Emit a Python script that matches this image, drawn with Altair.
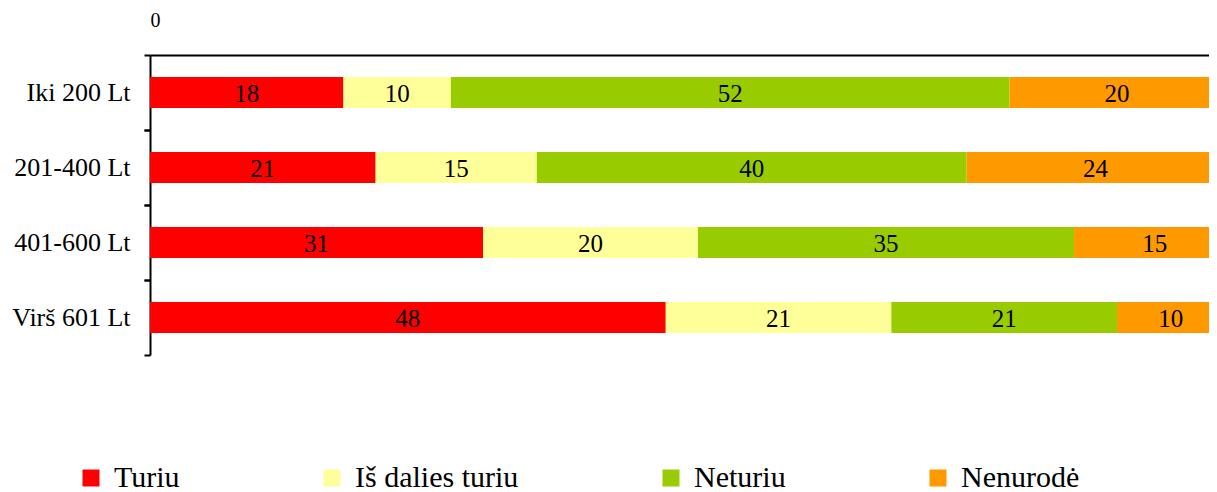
import altair as alt
import pandas as pd

categories = ["Iki 200 Lt", "201-400 Lt", "401-600 Lt", "Virš 601 Lt"]
series = ["Turiu", "Iš dalies turiu", "Neturiu", "Nenurodė"]
turiu = [18, 21, 31, 48]
is_dalies = [10, 15, 20, 21]
neturiu = [52, 40, 35, 21]
nenurode = [20, 24, 15, 10]
colors = ["#FF0000", "#FFFF99", "#99CC00", "#FF9900"]
x_ticks = [0]

rows = []
for s_i, (s, vals) in enumerate(zip(series, [turiu, is_dalies, neturiu, nenurode])):
    for c, v in zip(categories, vals):
        rows.append({"cat": c, "series": s, "order": s_i, "value": v})
df = pd.DataFrame(rows)

FONT = "Liberation Serif"

base = alt.Chart(df).transform_stack(
    stack="value", groupby=["cat"], as_=["x0", "x1"],
    sort=[alt.SortField(field="order", order="ascending")]
).transform_calculate(mid="(datum.x0 + datum.x1) / 2")

xscale = alt.Scale(domain=[0, 98.56], nice=False, zero=True)
yscale = alt.Scale(domain=categories, paddingInner=0, paddingOuter=0)

xaxis = alt.Axis(orient="top", values=x_ticks, ticks=False, labelPadding=25,
                 labelFontSize=20, labelFont=FONT, labelColor="black",
                 domainColor="black", domainWidth=2, grid=False, title=None)

bars = base.mark_bar(size=31, clip=True).encode(
    x=alt.X("x0:Q", scale=xscale, axis=xaxis),
    x2="x1:Q",
    y=alt.Y("cat:N", scale=yscale, sort=categories,
            axis=alt.Axis(orient="left", title=None, bandPosition=0,
                          tickSize=6, tickWidth=2, tickColor="black",
                          domainColor="black", domainWidth=2,
                          labelFontSize=26, labelFont=FONT, labelColor="black",
                          labelPadding=14, labelLimit=300, grid=False)),
    color=alt.Color("series:N", scale=alt.Scale(domain=series, range=colors),
                    legend=alt.Legend(orient="none", legendX=-74, legendY=408,
                                      direction="horizontal", columns=4, columnPadding=137,
                                      symbolType="square", symbolSize=289, symbolStrokeWidth=0,
                                      labelFontSize=30, labelFont=FONT, labelColor="black",
                                      labelOffset=8, labelLimit=500, title=None, padding=0)),
)

text = base.mark_text(font=FONT, fontSize=25, color="black", dy=1).encode(
    x=alt.X("mid:Q", scale=xscale, axis=xaxis),
    y=alt.Y("cat:N", scale=yscale, sort=categories,
            axis=alt.Axis(orient="left", title=None, bandPosition=1, labels=False,
                          domain=False, tickSize=6, tickWidth=2, tickColor="black",
                          grid=False)),
    text="value:Q",
)

chart = alt.layer(bars, text).resolve_axis(y="independent").properties(
    width=1059, height=300,
    padding={"left": 142, "top": 47, "right": 0, "bottom": 137},
    autosize="none",
).configure_view(stroke=None)

chart.save("out.html", embed_options={"renderer": "svg", "actions": False})
